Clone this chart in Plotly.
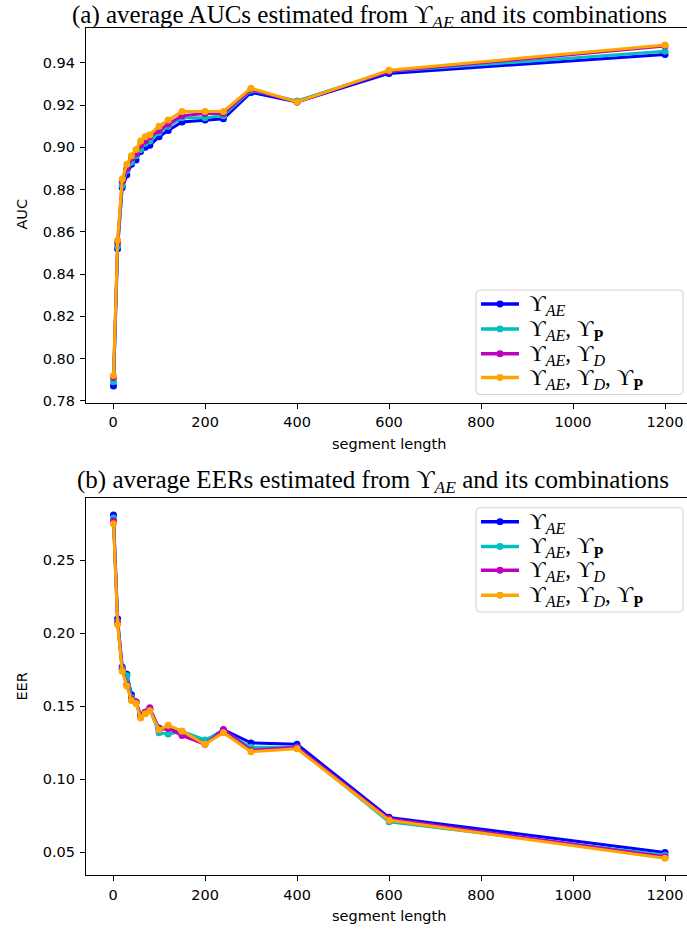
import plotly.graph_objects as go

segment_length = [1, 10, 20, 30, 40, 50, 60, 70, 80, 100, 120, 150, 200, 240, 300, 400, 600, 1200]

auc_ae = [0.787, 0.852, 0.881, 0.887, 0.892, 0.894, 0.898, 0.900, 0.901, 0.905, 0.908, 0.912, 0.913, 0.9135, 0.926, 0.9215, 0.935, 0.944]
auc_ae_p = [0.789, 0.853, 0.882, 0.889, 0.893, 0.896, 0.899, 0.902, 0.903, 0.907, 0.910, 0.914, 0.914, 0.915, 0.927, 0.922, 0.936, 0.9455]
auc_ae_d = [0.791, 0.855, 0.884, 0.890, 0.895, 0.897, 0.901, 0.903, 0.905, 0.908, 0.911, 0.915, 0.916, 0.916, 0.9275, 0.9215, 0.936, 0.948]
auc_ae_d_p = [0.792, 0.856, 0.885, 0.892, 0.896, 0.899, 0.903, 0.905, 0.906, 0.910, 0.913, 0.917, 0.917, 0.917, 0.928, 0.9215, 0.9365, 0.9485]

eer_ae = [0.281, 0.210, 0.177, 0.172, 0.158, 0.153, 0.144, 0.146, 0.148, 0.135, 0.135, 0.132, 0.126, 0.134, 0.125, 0.124, 0.074, 0.050]
eer_ae_p = [0.279, 0.208, 0.176, 0.171, 0.156, 0.153, 0.143, 0.146, 0.148, 0.132, 0.131, 0.133, 0.127, 0.133, 0.122, 0.122, 0.071, 0.048]
eer_ae_d = [0.277, 0.207, 0.175, 0.165, 0.155, 0.153, 0.143, 0.146, 0.149, 0.134, 0.135, 0.130, 0.124, 0.134, 0.120, 0.122, 0.073, 0.047]
eer_ae_d_p = [0.275, 0.206, 0.174, 0.164, 0.154, 0.152, 0.142, 0.145, 0.147, 0.134, 0.137, 0.133, 0.124, 0.132, 0.119, 0.121, 0.072, 0.046]

x_ticks = [0, 200, 400, 600, 800, 1000, 1200]
auc_ticks = [0.78, 0.80, 0.82, 0.84, 0.86, 0.88, 0.90, 0.92, 0.94]
eer_ticks = [0.05, 0.10, 0.15, 0.20, 0.25]

labels = [
    "ϒ<sub><i>AE</i></sub>",
    "ϒ<sub><i>AE</i></sub>, ϒ<sub><b>P</b></sub>",
    "ϒ<sub><i>AE</i></sub>, ϒ<sub><i>D</i></sub>",
    "ϒ<sub><i>AE</i></sub>, ϒ<sub><i>D</i></sub>, ϒ<sub><b>P</b></sub>",
]
colors = ["#0000ff", "#00bfbf", "#bf00bf", "#ffa500"]

auc_series = [auc_ae, auc_ae_p, auc_ae_d, auc_ae_d_p]
eer_series = [eer_ae, eer_ae_p, eer_ae_d, eer_ae_d_p]

W, H = 687, 936
LW, MS = 3, 7


def px(v):
    return v / W


def py(v):
    return 1 - v / H


fig = go.Figure()
for lab, col, ys in zip(labels, colors, auc_series):
    fig.add_trace(go.Scatter(x=segment_length, y=ys, mode="lines+markers", name=lab,
                             line=dict(color=col, width=LW), marker=dict(color=col, size=MS),
                             xaxis="x", yaxis="y", showlegend=False))
for lab, col, ys in zip(labels, colors, eer_series):
    fig.add_trace(go.Scatter(x=segment_length, y=ys, mode="lines+markers", name=lab,
                             line=dict(color=col, width=LW), marker=dict(color=col, size=MS),
                             xaxis="x2", yaxis="y2", showlegend=False))

tickfont = dict(family="DejaVu Sans", size=14.5, color="black")
xcommon = dict(showline=True, linecolor="black", linewidth=1, mirror=True,
               ticks="outside", ticklen=5, tickcolor="black", showgrid=False,
               zeroline=False, tickfont=tickfont, ticklabelstandoff=1)
ycommon = dict(showline=True, linecolor="black", linewidth=1, mirror=False,
               ticks="outside", ticklen=5, tickcolor="black", showgrid=False,
               zeroline=False, tickfont=tickfont, ticklabelstandoff=2, tickformat=".2f")

left = 85.9
xdom = [px(left), 1.0]
xrange_ = [-58.95, 1247.8]

fig.update_layout(
    width=W, height=H,
    margin=dict(l=0, r=0, t=0, b=0),
    paper_bgcolor="white", plot_bgcolor="white",
    showlegend=False,
    hovermode=False,
    xaxis=dict(domain=xdom, range=xrange_, tickvals=x_ticks, anchor="y", **xcommon),
    yaxis=dict(domain=[py(405.5), py(28)], range=[0.779, 0.9566], tickvals=auc_ticks,
               anchor="x", **ycommon),
    xaxis2=dict(domain=xdom, range=xrange_, tickvals=x_ticks, anchor="y2", **xcommon),
    yaxis2=dict(domain=[py(881), py(501)], range=[0.0343, 0.2928], tickvals=eer_ticks,
                anchor="x2", **ycommon),
)

titlefont = dict(family="Liberation Serif", size=25, color="black")
fig.add_annotation(text="(a) average AUCs estimated from ϒ<sub><i>AE</i></sub> and its combinations",
                   x=px(369), y=1.0, xref="paper", yref="paper",
                   xanchor="center", yanchor="top", showarrow=False, font=titlefont,
                   borderpad=0)
fig.add_annotation(text="(b) average EERs estimated from ϒ<sub><i>AE</i></sub> and its combinations",
                   x=px(373), y=py(485), xref="paper", yref="paper",
                   xanchor="center", yanchor="middle", showarrow=False, font=titlefont)

labfont = dict(family="DejaVu Sans", size=14.5, color="black")
fig.add_annotation(text="AUC", x=px(22), y=py(216), xref="paper", yref="paper", textangle=-90,
                   xanchor="center", yanchor="middle", showarrow=False, font=labfont)
fig.add_annotation(text="EER", x=px(22), y=py(691), xref="paper", yref="paper", textangle=-90,
                   xanchor="center", yanchor="middle", showarrow=False, font=labfont)
fig.add_annotation(text="segment length", x=px(389), y=py(447), xref="paper", yref="paper",
                   xanchor="center", yanchor="middle", showarrow=False, font=labfont)
fig.add_annotation(text="segment length", x=px(389), y=py(922), xref="paper", yref="paper",
                   xanchor="center", yanchor="middle", showarrow=False, font=labfont)


def rounded_rect(x0, y0, x1, y1, r=4):
    X = lambda v: f"{px(v):.6f}"
    Y = lambda v: f"{py(v):.6f}"
    return (f"M {X(x0 + r)},{Y(y0)} L {X(x1 - r)},{Y(y0)} Q {X(x1)},{Y(y0)} {X(x1)},{Y(y0 + r)} "
            f"L {X(x1)},{Y(y1 - r)} Q {X(x1)},{Y(y1)} {X(x1 - r)},{Y(y1)} "
            f"L {X(x0 + r)},{Y(y1)} Q {X(x0)},{Y(y1)} {X(x0)},{Y(y1 - r)} "
            f"L {X(x0)},{Y(y0 + r)} Q {X(x0)},{Y(y0)} {X(x0 + r)},{Y(y0)} Z")


legfont = dict(family="Liberation Serif", size=23, color="black")


def add_legend(box, rows):
    x0, y0, x1, y1 = box
    fig.add_shape(type="path", path=rounded_rect(x0, y0, x1, y1), xref="paper", yref="paper",
                  line=dict(color="#d0d0d0", width=1), fillcolor="rgba(255,255,255,0.8)", layer="above")
    for lab, col, ry in zip(labels, colors, rows):
        fig.add_shape(type="line", x0=px(481), x1=px(519), y0=py(ry), y1=py(ry), xref="paper", yref="paper",
                      line=dict(color=col, width=LW + 0.5), layer="above")
        r = MS / 2
        fig.add_shape(type="circle", x0=px(500 - r), x1=px(500 + r), y0=py(ry - r), y1=py(ry + r),
                      xref="paper", yref="paper", line=dict(color=col, width=0), fillcolor=col, layer="above")
        fig.add_annotation(text=lab, x=px(527), y=py(ry + 1), xref="paper", yref="paper",
                           xanchor="left", yanchor="middle", showarrow=False, font=legfont)


add_legend((476, 292, 683, 397), [306, 331, 356, 380])
add_legend((476, 511, 683, 616), [525, 550, 574, 599])

fig.write_html("out.html", config={"displayModeBar": False, "staticPlot": True},
               post_script="document.body.style.margin='0';")
